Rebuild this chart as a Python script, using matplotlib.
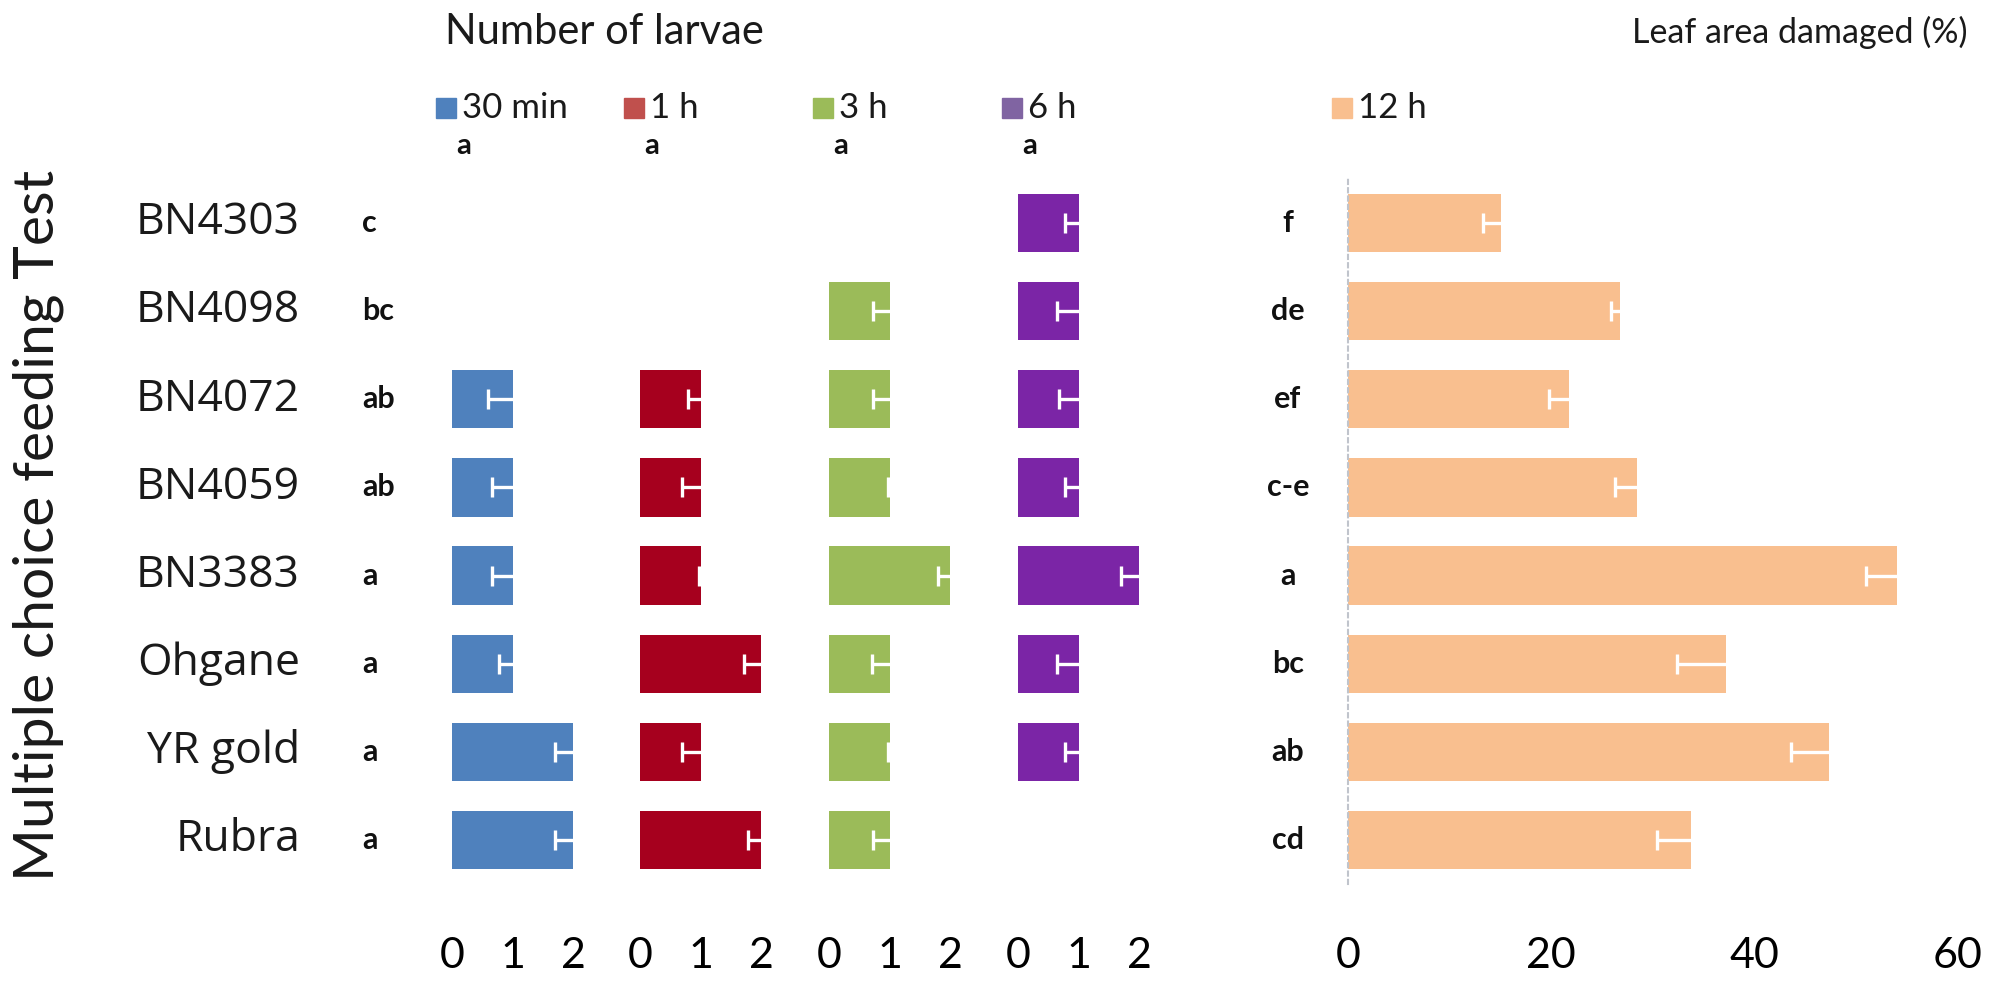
import matplotlib
matplotlib.use("Agg")
import matplotlib.pyplot as plt
from matplotlib.transforms import blended_transform_factory
from matplotlib.patches import Rectangle

# ---------------- data ----------------
cultivars = ["BN4303", "BN4098", "BN4072", "BN4059", "BN3383", "Ohgane", "YR gold", "Rubra"]
larvae_letters = ["c", "bc", "ab", "ab", "a", "a", "a", "a"]
leaf_letters = ["f", "de", "ef", "c-e", "a", "bc", "ab", "cd"]

time_labels = ["30 min", "1 h", "3 h", "6 h"]
time_top_letters = ["a", "a", "a", "a"]

larvae_30min = [0, 0, 1, 1, 1, 1, 2, 2]
larvae_30min_err = [0, 0, 0.40, 0.34, 0.34, 0.23, 0.29, 0.29]
larvae_1h = [0, 0, 1, 1, 1, 2, 1, 2]
larvae_1h_err = [0, 0, 0.20, 0.31, 0.03, 0.28, 0.31, 0.22]
larvae_3h = [0, 1, 1, 1, 2, 1, 1, 1]
larvae_3h_err = [0, 0.28, 0.28, 0.03, 0.20, 0.29, 0.03, 0.28]
larvae_6h = [1, 1, 1, 1, 2, 1, 1, 0]
larvae_6h_err = [0.23, 0.35, 0.32, 0.23, 0.29, 0.35, 0.23, 0]

leaf_label = "12 h"
leaf_damage = [15.0, 26.8, 21.7, 28.4, 54.0, 37.2, 47.3, 33.7]
leaf_damage_err = [1.7, 0.9, 1.9, 2.1, 3.0, 4.8, 3.7, 3.3]

larvae_ticks = [0, 1, 2]
leaf_ticks = [0, 20, 40, 60]

# ---------------- style ----------------
bar_colors = ["#4F81BD", "#A6001E", "#9BBB59", "#7B25A6"]
legend_colors = ["#4F81BD", "#C0504D", "#9BBB59", "#8064A2"]
leaf_color = "#F9BF8F"

FONT = ["Lato", "DejaVu Sans"]
CAT_FONT = ["Open Sans", "DejaVu Sans"]
plt.rcParams["font.family"] = FONT

W, H = 2003, 990
fig = plt.figure(figsize=(W / 100, H / 100), dpi=100)

bottom = 1 - 884 / H
top = 1 - 179 / H
height = top - bottom
panel_lefts_px = [452, 640, 829, 1018]
panel_w_px = 121
leaf_left_px, leaf_w_px = 1348, 610

ypos = list(range(len(cultivars)))
bar_h = 0.66

series = [(larvae_30min, larvae_30min_err), (larvae_1h, larvae_1h_err),
          (larvae_3h, larvae_3h_err), (larvae_6h, larvae_6h_err)]


def draw_bars(ax, vals, errs, color, cap_size):
    ys = [y for y, v in zip(ypos, vals) if v > 0]
    vs = [v for v in vals if v > 0]
    es = [e for v, e in zip(vals, errs) if v > 0]
    ax.barh(ys, vs, height=bar_h, color=color, zorder=2)
    ax.errorbar(vs, ys, xerr=[es, [0] * len(es)], fmt="none", ecolor="white",
                elinewidth=2.4, capsize=0, zorder=3)
    ax.plot([v - e for v, e in zip(vs, es)], ys, linestyle="none", marker="|",
            markersize=cap_size, markeredgewidth=2.4, color="white", zorder=3)


axes = []
for i, (vals, errs) in enumerate(series):
    ax = fig.add_axes([panel_lefts_px[i] / W, bottom, panel_w_px / W, height])
    draw_bars(ax, vals, errs, bar_colors[i], 14)
    ax.set_xlim(0, 2)
    ax.set_ylim(len(cultivars) - 0.5, -0.5)
    ax.set_xticks(larvae_ticks)
    ax.set_xticklabels([str(t) for t in larvae_ticks], fontsize=31)
    ax.set_yticks([])
    ax.tick_params(axis="x", length=0, pad=38)
    for s in ax.spines.values():
        s.set_visible(False)
    ax.patch.set_alpha(0)
    axes.append(ax)

# leaf panel
axl = fig.add_axes([leaf_left_px / W, bottom, leaf_w_px / W, height])
draw_bars(axl, leaf_damage, leaf_damage_err, leaf_color, 14)
axl.set_xlim(0, 60)
axl.set_ylim(len(cultivars) - 0.5, -0.5)
axl.set_xticks(leaf_ticks)
axl.set_xticklabels([str(t) for t in leaf_ticks], fontsize=31)
axl.set_yticks([])
axl.tick_params(axis="x", length=0, pad=38)
for k, s in axl.spines.items():
    s.set_visible(k == "left")
axl.spines["left"].set_linestyle((0, (2, 2)))
axl.spines["left"].set_color("#C0C4CC")
axl.spines["left"].set_linewidth(1.5)
axl.patch.set_alpha(0)

# category labels and letters
tr0 = blended_transform_factory(fig.transFigure, axes[0].transData)
for y, name, let in zip(ypos, cultivars, larvae_letters):
    fig.text(300 / W, y, name, transform=tr0, ha="right", va="center",
             fontsize=32, family=CAT_FONT, color="#1a1a1a")
    fig.text(362 / W, y, let, transform=tr0, ha="left", va="center",
             fontsize=22, fontweight="bold", color="#111111")
for y, let in zip(ypos, leaf_letters):
    fig.text(1288 / W, y, let, transform=tr0, ha="center", va="center",
             fontsize=22, fontweight="bold", color="#111111")

# titles
fig.text(604 / W, 1 - 32 / H, "Number of larvae", ha="center", va="center",
         fontsize=30, color="#1a1a1a")
fig.text(1800 / W, 1 - 32 / H, "Leaf area damaged (%)", ha="center", va="center",
         fontsize=24.5, color="#1a1a1a")

# y label
fig.text(38 / W, 1 - 525 / H, "Multiple choice feeding Test", rotation=90,
         ha="center", va="center", fontsize=41, color="#1a1a1a")

# legend-like labels
leg_y = 1 - 108 / H
sq = 20
for i, lab in enumerate(time_labels):
    x0 = panel_lefts_px[i]
    fig.patches.append(Rectangle(((x0 - 16) / W, leg_y - sq / 2 / H), sq / W, sq / H,
                                 transform=fig.transFigure, color=legend_colors[i]))
    fig.text((x0 + 10) / W, leg_y, lab, ha="left", va="center", fontsize=25,
             color="#1a1a1a")
    fig.text((x0 + 4) / W, 1 - 146 / H, time_top_letters[i], ha="left", va="center",
             fontsize=21, fontweight="bold", color="#111111")

x0 = leaf_left_px
fig.patches.append(Rectangle(((x0 - 16) / W, leg_y - sq / 2 / H), sq / W, sq / H,
                             transform=fig.transFigure, color=leaf_color))
fig.text((x0 + 10) / W, leg_y, leaf_label, ha="left", va="center", fontsize=25,
         color="#1a1a1a")

fig.savefig("out.png", dpi=100, facecolor="white")
